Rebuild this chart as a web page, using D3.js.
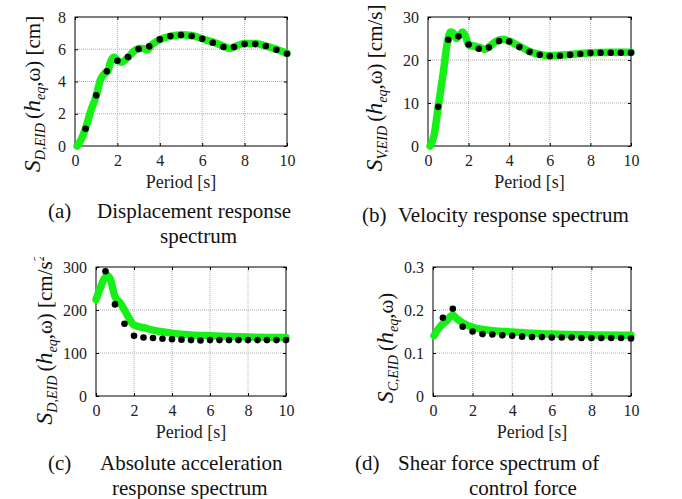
<!DOCTYPE html>
<html>
<head>
<meta charset="utf-8">
<script src="https://cdn.jsdelivr.net/npm/d3@7"></script>
<style>
  body { margin: 0; background: #fff; }
  svg { display: block; font-family: "Liberation Serif", "Times New Roman", serif; }
  .grid line { stroke: #9a9a9a; stroke-dasharray: 1,1; stroke-width: 0.8; }
  .tick text { font-size: 16px; fill: #222; font-family: "Liberation Serif", serif; }
</style>
</head>
<body>
<svg id="chart" width="682" height="499"></svg>
<script>
// marker periods (black dots)
const dotPeriods = [0.5, 1, 1.5, 2, 2.5, 3, 3.5, 4, 4.5, 5, 5.5, 6, 6.5, 7, 7.5, 8, 8.5, 9, 9.5, 10]

const dispDots = [1.07, 3.14, 4.63, 5.29, 5.52, 6.01, 6.18, 6.61, 6.82, 6.88, 6.82, 6.65, 6.40, 6.14, 6.14, 6.32, 6.32, 6.20, 5.97, 5.72]
const velDots = [9.1, 24.7, 25.5, 23.6, 22.6, 22.9, 24.4, 24.3, 23.0, 21.9, 21.2, 20.9, 21.0, 21.2, 21.4, 21.6, 21.7, 21.7, 21.7, 21.7]
const accDots = [290, 213, 168, 140, 136, 135, 133, 132, 131, 130, 129, 130, 130, 130, 130, 130, 130, 130, 130, 130]
const shearDots = [0.182, 0.203, 0.161, 0.150, 0.144, 0.143, 0.141, 0.140, 0.138, 0.137, 0.137, 0.136, 0.136, 0.136, 0.135, 0.135, 0.135, 0.135, 0.135, 0.134]

// green curves
const dispCurveT = [0.1, 0.25, 0.5, 0.75, 1.0, 1.2, 1.4, 1.55, 1.7, 1.85, 2.0, 2.2, 2.5, 2.8, 3.0, 3.2, 3.4, 3.6, 4.0, 4.5, 5.0, 5.5, 6.0, 6.5, 7.0, 7.3, 7.6, 8.0, 8.5, 9.0, 9.5, 10]
const dispCurve = [0, 0.3, 1.1, 2.2, 3.1, 4.1, 4.5, 4.65, 5.3, 5.5, 5.3, 5.2, 5.5, 5.9, 6.05, 6.05, 5.95, 6.25, 6.6, 6.8, 6.9, 6.85, 6.65, 6.45, 6.2, 6.05, 6.2, 6.35, 6.35, 6.2, 6.0, 5.75]

const velCurveT = [0.1, 0.3, 0.5, 0.75, 0.95, 1.1, 1.25, 1.4, 1.55, 1.7, 1.85, 2.0, 2.3, 2.6, 2.8, 3.0, 3.3, 3.7, 4.0, 4.5, 5.0, 5.5, 6.0, 6.5, 7.0, 7.5, 8, 9, 10]
const velCurve = [0, 2.5, 9, 17, 24, 26.5, 26.3, 25, 25.8, 26.5, 25.5, 23.5, 23.2, 22.8, 22.5, 23, 24.2, 24.8, 24.4, 23.2, 22, 21.3, 21, 21.1, 21.3, 21.5, 21.7, 21.8, 21.8]

const accCurveT = [0, 0.2, 0.4, 0.6, 0.75, 1.0, 1.3, 1.6, 2.0, 2.5, 3, 4, 5, 6, 8, 10]
const accCurve = [224, 248, 270, 280, 272, 231, 215, 192, 165, 159, 153, 146, 142, 140, 137, 136]

const shearCurveT = [0.05, 0.3, 0.5, 0.7, 0.9, 1.0, 1.2, 1.5, 2.0, 2.5, 3, 4, 5, 6, 8, 10]
const shearCurve = [0.14, 0.158, 0.168, 0.175, 0.186, 0.188, 0.18, 0.17, 0.16, 0.155, 0.152, 0.149, 0.146, 0.144, 0.142, 0.141]

const xTicks = [0, 2, 4, 6, 8, 10]
const dispTicks = [0, 2, 4, 6, 8]
const velTicks = [0, 10, 20, 30]
const accTicks = [0, 100, 200, 300]
const shearTicks = [0, 0.1, 0.2, 0.3]

const svg = d3.select('#chart')
const green = '#16f016'
const serif = '"Liberation Serif", "Times New Roman", serif'

const panels = [
  { box: [75, 287, 17, 146], ymax: 8, yTicks: dispTicks, fmt: d3.format('d'),
    cT: dispCurveT, cV: dispCurve, dV: dispDots,
    label: { x: 40, y: 94, sub: 'D,EID', unit: ' [cm]' } },
  { box: [428, 631, 17, 146], ymax: 30, yTicks: velTicks, fmt: d3.format('d'),
    cT: velCurveT, cV: velCurve, dV: velDots,
    label: { x: 382, y: 88, sub: 'V,EID', unit: ' [cm/s]' } },
  { box: [96, 286, 267, 396], ymax: 300, yTicks: accTicks, fmt: d3.format('d'),
    cT: accCurveT, cV: accCurve, dV: accDots,
    label: { x: 52, y: 336, sub: 'D,EID', unit: ' [cm/s', sup: '2', close: ']' } },
  { box: [433, 631, 267, 396], ymax: 0.3, yTicks: shearTicks, fmt: (d) => d === 0 ? '0' : d3.format('.1f')(d),
    cT: shearCurveT, cV: shearCurve, dV: shearDots,
    label: { x: 393, y: 348, sub: 'C,EID', unit: '' } }
]

// the (c) y-label is cut at its top in the source figure
svg.append('clipPath').attr('id', 'clipC')
  .append('rect').attr('x', 0).attr('y', 257).attr('width', 120).attr('height', 242)

panels.forEach(drawPanel)

function drawPanel (p, idx) {
  const [x0, x1, y0, y1] = p.box
  const x = d3.scaleLinear().domain([0, 10]).range([x0, x1])
  const y = d3.scaleLinear().domain([0, p.ymax]).range([y1, y0])
  const g = svg.append('g')

  // dotted grid
  const grid = g.append('g').attr('class', 'grid')
  grid.selectAll('.gx').data(xTicks.slice(1, -1)).enter().append('line')
    .attr('x1', (d) => x(d)).attr('x2', (d) => x(d)).attr('y1', y0).attr('y2', y1)
  grid.selectAll('.gy').data(p.yTicks.slice(1, -1)).enter().append('line')
    .attr('y1', (d) => y(d)).attr('y2', (d) => y(d)).attr('x1', x0).attr('x2', x1)

  // axes with inward ticks
  const xa = g.append('g').attr('transform', `translate(0,${y1})`)
    .call(d3.axisBottom(x).tickValues(xTicks).tickSize(-3).tickPadding(14).tickFormat(d3.format('d')))
  const ya = g.append('g').attr('transform', `translate(${x0},0)`)
    .call(d3.axisLeft(y).tickValues(p.yTicks).tickSize(-3).tickPadding(9).tickFormat(p.fmt))
  g.append('g').attr('transform', `translate(0,${y0})`)
    .call(d3.axisTop(x).tickValues(xTicks).tickSize(-3).tickFormat(''))
  g.append('g').attr('transform', `translate(${x1},0)`)
    .call(d3.axisRight(y).tickValues(p.yTicks).tickSize(-3).tickFormat(''))
  xa.attr('font-family', serif)
  ya.attr('font-family', serif)
  g.selectAll('.domain').remove()
  g.selectAll('.tick line').attr('stroke', '#000')
  xa.selectAll('text').attr('dy', '0.35em')
  g.append('rect').attr('x', x0).attr('y', y0).attr('width', x1 - x0).attr('height', y1 - y0)
    .attr('fill', 'none').attr('stroke', '#000').attr('stroke-width', 1)

  // green curve
  const pts = p.cT.map((t, i) => [t, p.cV[i]])
  g.append('path').datum(pts)
    .attr('fill', 'none').attr('stroke', green).attr('stroke-width', 7.5)
    .attr('stroke-linejoin', 'round').attr('stroke-linecap', 'round')
    .attr('d', d3.line().x((d) => x(d[0])).y((d) => y(d[1])).curve(d3.curveMonotoneX))

  // black dots
  g.selectAll('.dot').data(dotPeriods.map((t, i) => [t, p.dV[i]])).enter().append('circle')
    .attr('cx', (d) => x(d[0])).attr('cy', (d) => y(d[1])).attr('r', 3.3).attr('fill', '#000')

  // x label
  g.append('text').attr('x', (x0 + x1) / 2).attr('y', y1 + 42)
    .attr('text-anchor', 'middle').attr('font-size', 18).attr('fill', '#222').text('Period [s]')

  // y label
  const L = p.label
  const lg = g.append('g')
  if (idx === 2) lg.attr('clip-path', 'url(#clipC)')
  const t = lg.append('text').attr('transform', `translate(${L.x},${L.y}) rotate(-90)`)
    .attr('text-anchor', 'middle').attr('font-size', 21).attr('fill', '#111')
  t.append('tspan').attr('font-style', 'italic').attr('font-size', 24).text('S')
  t.append('tspan').attr('font-style', 'italic').attr('font-size', 14).attr('dy', 5).text(L.sub)
  t.append('tspan').attr('dy', -5).text('\u2009(')
  t.append('tspan').attr('font-style', 'italic').attr('font-size', 24).text('h')
  t.append('tspan').attr('font-style', 'italic').attr('font-size', 14).attr('dy', 5).text('eq')
  t.append('tspan').attr('dy', -5).text(',\u03c9)' + L.unit)
  if (L.sup) {
    t.append('tspan').attr('font-size', 14).attr('dy', -8).text(L.sup)
    t.append('tspan').attr('dy', 8).text(L.close)
  }
}

// captions
const captions = [
  { x: 48, y: 218, tag: '(a)', lines: [['Displacement response', 97], ['spectrum', 160]] },
  { x: 362, y: 222, tag: '(b)', lines: [['Velocity response spectrum', 398]] },
  { x: 48, y: 470, tag: '(c)', lines: [['Absolute acceleration', 100], ['response spectrum', 112]] },
  { x: 355, y: 470, tag: '(d)', lines: [['Shear force spectrum of', 398], ['control force', 469]] }
]
captions.forEach((c) => {
  svg.append('text').attr('x', c.x).attr('y', c.y).attr('font-size', 21).attr('fill', '#111').text(c.tag)
  c.lines.forEach((l, i) => {
    svg.append('text').attr('x', l[1]).attr('y', c.y + i * 25).attr('font-size', 21).attr('fill', '#111').text(l[0])
  })
})
</script>
</body>
</html>
